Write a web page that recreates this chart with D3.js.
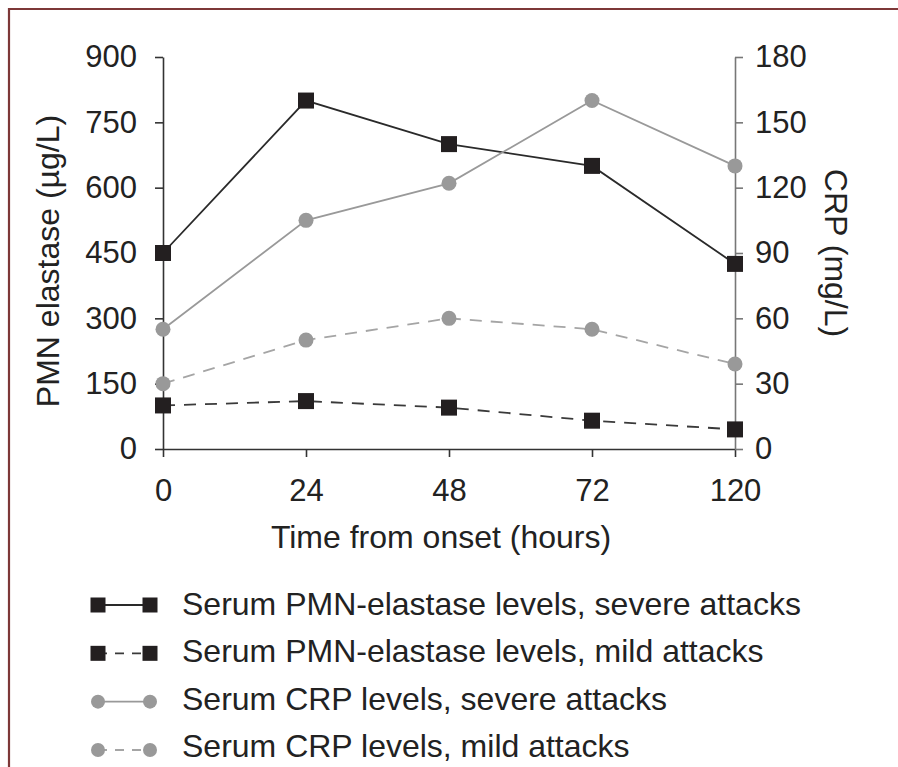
<!DOCTYPE html>
<meta charset="utf-8">
<style>
body { margin: 0; background: #fff; }
svg text { font-family: "Liberation Sans", Arial, Helvetica, sans-serif; fill: #222; }
.axis text { font-size: 31px; }
.axis path, .axis line { stroke: #333; stroke-width: 1.6px; }
.axis.right path, .axis.right line { stroke: #777; }
</style>
<svg width="898" height="767"></svg>
<script src="https://d3js.org/d3.v7.min.js"></script>
<script>

var hours = ["0", "24", "48", "72", "120"];
var elastaseSevere = [450, 800, 700, 650, 425];
var elastaseMild = [100, 110, 95, 65, 45];
var crpSevere = [55, 105, 122, 160, 130];
var crpMild = [30, 50, 60, 55, 39];
var leftTicks = [0, 150, 300, 450, 600, 750, 900];
var rightTicks = [0, 30, 60, 90, 120, 150, 180];
var legendLabels = [
  "Serum PMN-elastase levels, severe attacks",
  "Serum PMN-elastase levels, mild attacks",
  "Serum CRP levels, severe attacks",
  "Serum CRP levels, mild attacks"
];

var svg = d3.select("svg");

// frame
svg.append("path")
    .attr("d", "M9,767V9H898")
    .attr("fill", "none")
    .attr("stroke", "#7d3838")
    .attr("stroke-width", 2.2);

var x = d3.scalePoint().domain(hours).range([163, 735]);
var yL = d3.scaleLinear().domain([0, 900]).range([449, 57]);
var yR = d3.scaleLinear().domain([0, 180]).range([449, 57]);

svg.append("g")
    .attr("class", "axis")
    .attr("transform", "translate(0,449)")
    .call(d3.axisBottom(x).tickSize(8).tickSizeOuter(0).tickPadding(22));

svg.append("g")
    .attr("class", "axis")
    .attr("transform", "translate(163,0)")
    .call(d3.axisLeft(yL).tickValues(leftTicks).tickSize(8).tickSizeOuter(0).tickPadding(18));

svg.append("g")
    .attr("class", "axis right")
    .attr("transform", "translate(735,0)")
    .call(d3.axisRight(yR).tickValues(rightTicks).tickSize(8).tickSizeOuter(0).tickPadding(12));

// titles
svg.append("text")
    .attr("x", 441).attr("y", 548)
    .attr("text-anchor", "middle")
    .style("font-size", "32px")
    .text("Time from onset (hours)");

svg.append("text")
    .attr("transform", "translate(59,261) rotate(-90)")
    .attr("text-anchor", "middle")
    .style("font-size", "32px")
    .text("PMN elastase (\u00b5g/L)");

svg.append("text")
    .attr("transform", "translate(825,253) rotate(90)")
    .attr("text-anchor", "middle")
    .style("font-size", "32px")
    .text("CRP (mg/L)");

var series = [
  {values: elastaseSevere, y: yL, color: "#2a2a2a", dash: null, shape: "square"},
  {values: elastaseMild, y: yL, color: "#3a3a3a", dash: "12,9", shape: "square"},
  {values: crpSevere, y: yR, color: "#999", dash: null, shape: "circle"},
  {values: crpMild, y: yR, color: "#a5a5a5", dash: "12,9", shape: "circle"}
];

// lines first, then markers
series.forEach(function(s) {
  var line = d3.line()
      .x(function(d, i) { return x(hours[i]); })
      .y(function(d) { return s.y(d); });
  svg.append("path")
      .datum(s.values)
      .attr("d", line)
      .attr("fill", "none")
      .attr("stroke", s.color)
      .attr("stroke-width", 1.8)
      .attr("stroke-dasharray", s.dash);
});

series.forEach(function(s) {
  var g = svg.append("g");
  if (s.shape == "square") {
    g.selectAll("rect").data(s.values).enter().append("rect")
        .attr("x", function(d, i) { return x(hours[i]) - 8; })
        .attr("y", function(d) { return s.y(d) - 8; })
        .attr("width", 16).attr("height", 16)
        .attr("fill", "#231f20");
  } else {
    g.selectAll("circle").data(s.values).enter().append("circle")
        .attr("cx", function(d, i) { return x(hours[i]); })
        .attr("cy", function(d) { return s.y(d); })
        .attr("r", 7.5)
        .attr("fill", "#999");
  }
});

// legend
var legendY = d3.scalePoint().domain(d3.range(4)).range([605, 750]);
series.forEach(function(s, i) {
  var g = svg.append("g").attr("transform", "translate(0," + legendY(i) + ")");
  g.append("line")
      .attr("x1", 98).attr("x2", 150)
      .attr("stroke", s.color).attr("stroke-width", 1.8)
      .attr("stroke-dasharray", s.dash ? "9,8" : null);
  [98, 150].forEach(function(cx) {
    if (s.shape == "square") {
      g.append("rect").attr("x", cx - 7.5).attr("y", -7.5)
          .attr("width", 15).attr("height", 15).attr("fill", "#231f20");
    } else {
      g.append("circle").attr("cx", cx).attr("r", 7).attr("fill", "#999");
    }
  });
  g.append("text")
      .attr("x", 182).attr("y", 10 - i)
      .style("font-size", "32px")
      .text(legendLabels[i]);
});

</script>
